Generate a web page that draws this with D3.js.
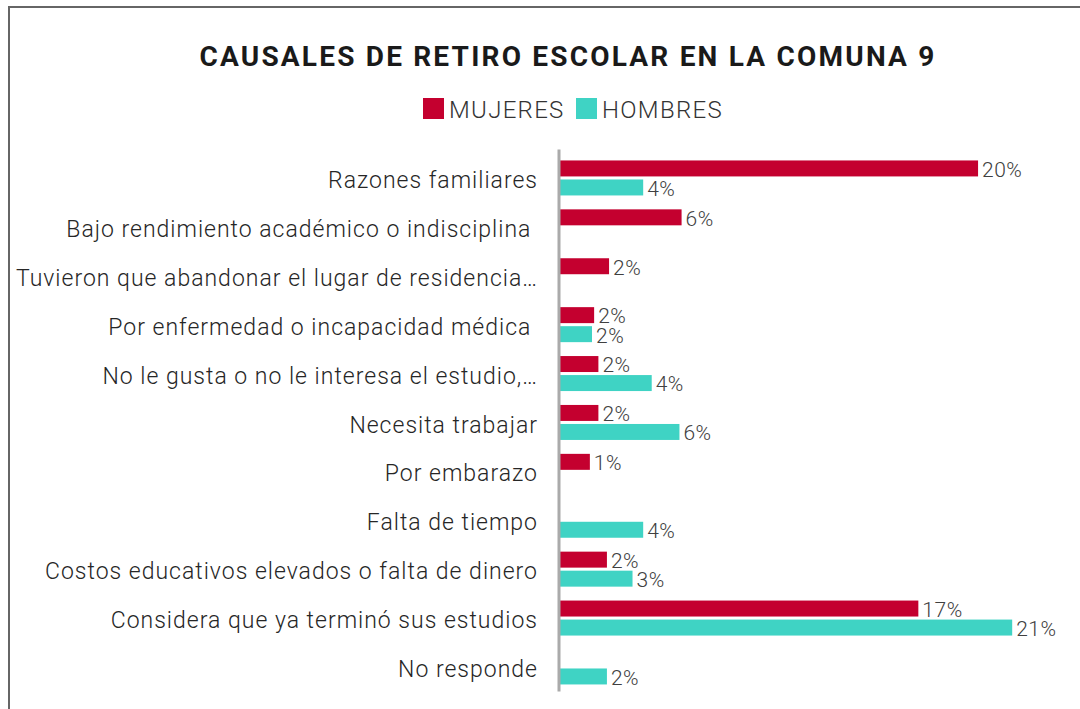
<!DOCTYPE html>
<html>
<head>
<meta charset="utf-8">
<script src="https://cdn.jsdelivr.net/npm/d3@7"></script>
<style>
  body { margin: 0; background: #fff; }
  text { font-family: Roboto, "Noto Sans", sans-serif; }
</style>
</head>
<body>
<svg id="chart"></svg>
<script>
// categories (top to bottom) and values in percent
var categories = [
  "Razones familiares",
  "Bajo rendimiento académico o indisciplina ",
  "Tuvieron que abandonar el lugar de residencia…",
  "Por enfermedad o incapacidad médica ",
  "No le gusta o no le interesa el estudio,…",
  "Necesita trabajar",
  "Por embarazo",
  "Falta de tiempo",
  "Costos educativos elevados o falta de dinero",
  "Considera que ya terminó sus estudios",
  "No responde"
];
var series = ["MUJERES", "HOMBRES"];
var mujeres = [19.6, 5.7, 2.3, 1.6, 1.8, 1.8, 1.4, null, 2.2, 16.8, null];
var hombres = [3.9, null, null, 1.5, 4.3, 5.6, null, 3.9, 3.4, 21.2, 2.2];
var colors = ["#c4002f", "#3fd3c4"];

var width = 1080, height = 709;

var svg = d3.select("#chart")
  .attr("width", width)
  .attr("height", height);

// outer frame
svg.append("path")
   .attr("d", "M9,720 V7 H1090")
   .attr("fill", "none")
   .attr("stroke", "#666")
   .attr("stroke-width", 2);

svg.append("text")
   .attr("x", 568)
   .attr("y", 66)
   .attr("text-anchor", "middle")
   .attr("font-size", "28px")
   .attr("font-weight", "bold")
   .attr("letter-spacing", "2.2px")
   .attr("fill", "#1a1a1a")
   .text("CAUSALES DE RETIRO ESCOLAR EN LA COMUNA 9");

// legend
var legendX = [423, 576];
var legend = svg.selectAll(".legend")
  .data(series)
  .enter().append("g")
  .attr("class", "legend")
  .attr("transform", function(d, i) { return "translate(" + legendX[i] + ",98)"; });

legend.append("rect")
  .attr("width", 21)
  .attr("height", 21)
  .attr("fill", function(d, i) { return colors[i]; });

legend.append("text")
  .attr("x", 26)
  .attr("y", 20)
  .attr("font-size", "24px")
  .attr("font-weight", 300)
  .attr("letter-spacing", "1.3px")
  .attr("fill", "#333")
  .text(function(d) { return d; });

var x = d3.scaleLinear().domain([0, 25]).range([560, 560 + 25 * 21.33]);
var y0 = d3.scaleBand().domain(categories).range([153.5, 691.4]);
var y1 = d3.scaleBand().domain(series).range([-17.5, 17.5]).paddingInner(0.16);

// category labels
svg.selectAll(".cat")
  .data(categories)
  .enter().append("text")
  .attr("class", "cat")
  .attr("x", 538)
  .attr("y", function(d) { return y0(d) + y0.bandwidth() / 2 + 2; })
  .attr("dy", "0.35em")
  .attr("text-anchor", "end")
  .attr("font-size", "23px")
  .attr("font-weight", 300)
  .attr("letter-spacing", "1px")
  .attr("fill", "#262626")
  .style("white-space", "pre")
  .text(function(d) { return d; });

var rows = [];
categories.forEach(function(c, i) {
  if (mujeres[i] != null) rows.push({ cat: c, s: series[0], v: mujeres[i], color: colors[0] });
  if (hombres[i] != null) rows.push({ cat: c, s: series[1], v: hombres[i], color: colors[1] });
});

function barY(d) { return y0(d.cat) + y0.bandwidth() / 2 + y1(d.s); }

svg.selectAll(".bar")
  .data(rows)
  .enter().append("rect")
  .attr("class", "bar")
  .attr("x", x(0))
  .attr("y", barY)
  .attr("width", function(d) { return x(d.v) - x(0); })
  .attr("height", y1.bandwidth())
  .attr("fill", function(d) { return d.color; });

svg.selectAll(".val")
  .data(rows)
  .enter().append("text")
  .attr("class", "val")
  .attr("x", function(d) { return x(d.v) + 4; })
  .attr("y", function(d) { return barY(d) + y1.bandwidth() / 2 + 1; })
  .attr("dy", "0.35em")
  .attr("font-size", "21px")
  .attr("font-weight", 300)
  .attr("letter-spacing", "0.5px")
  .attr("fill", "#404040")
  .text(function(d) { return Math.round(d.v) + "%"; });

// vertical axis line
svg.append("line")
   .attr("x1", 559)
   .attr("x2", 559)
   .attr("y1", y0.range()[0] - 4)
   .attr("y2", y0.range()[1])
   .attr("stroke", "#aaa")
   .attr("stroke-width", 3);
</script>
</body>
</html>
